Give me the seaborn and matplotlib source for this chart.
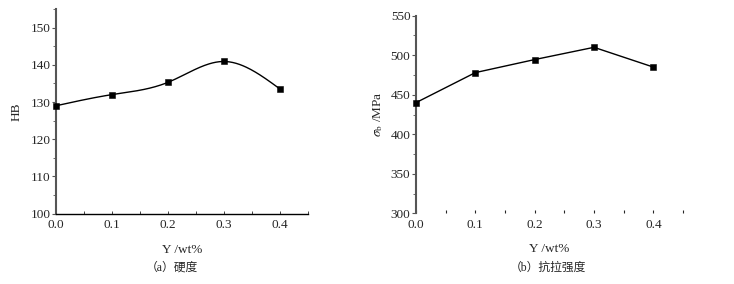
import numpy as np
import pandas as pd
import matplotlib
matplotlib.use("Agg")
import matplotlib.pyplot as plt
import seaborn as sns
from matplotlib.ticker import MultipleLocator

# ---- data ----
y_content = [0.0, 0.1, 0.2, 0.3, 0.4]
hardness_hb = [129.0, 132.0, 135.3, 140.9, 133.5]
tensile_mpa = [440.0, 478.0, 494.5, 510.0, 485.0]
xlabel = "Y /wt%"
ylabel_a = "HB"
ylabel_b = r"$\sigma_{\rm b}$ /MPa"
caption_a = "（a）硬度"
caption_b = "（b）抗拉强度"

sns.set_theme(style="ticks")
plt.rcParams["font.family"] = ["Liberation Serif", "Noto Sans CJK SC", "DejaVu Sans"]
plt.rcParams["mathtext.fontset"] = "stix"

def natural_spline(x, y, n=200):
    x = np.asarray(x, float); y = np.asarray(y, float)
    k = len(x); h = np.diff(x)
    A = np.zeros((k, k)); b = np.zeros(k)
    A[0, 0] = A[-1, -1] = 1
    for i in range(1, k - 1):
        A[i, i - 1] = h[i - 1]; A[i, i] = 2 * (h[i - 1] + h[i]); A[i, i + 1] = h[i]
        b[i] = 3 * ((y[i + 1] - y[i]) / h[i] - (y[i] - y[i - 1]) / h[i - 1])
    c = np.linalg.solve(A, b)
    xs = np.linspace(x[0], x[-1], n); ys = np.empty_like(xs)
    for j, xv in enumerate(xs):
        i = min(np.searchsorted(x, xv, side="right") - 1, k - 2)
        d = xv - x[i]
        bi = (y[i + 1] - y[i]) / h[i] - h[i] * (2 * c[i] + c[i + 1]) / 3
        di = (c[i + 1] - c[i]) / (3 * h[i])
        ys[j] = y[i] + bi * d + c[i] * d ** 2 + di * d ** 3
    return xs, ys

df = pd.DataFrame({"x": y_content, "hb": hardness_hb, "ts": tensile_mpa})

fig = plt.figure(figsize=(7.34, 2.84), dpi=100)
ax1 = fig.add_axes([56 / 734, 1 - 213.7 / 284, 252 / 734, (213.7 - 9) / 284])
ax2 = fig.add_axes([416 / 734, 1 - 213.3 / 284, 267 / 734, (213.3 - 15.7) / 284])

spine_col = "#555555"
# left panel
xs, ys = natural_spline(df["x"], df["hb"])
sns.lineplot(x=xs, y=ys, ax=ax1, color="black", lw=1.0)
sns.scatterplot(data=df, x="x", y="hb", ax=ax1, marker="s", s=22, color="black",
                edgecolor="black", zorder=5, clip_on=False)
ax1.set_xlim(0, 0.45)
ax1.set_ylim(100, 155)
ax1.yaxis.set_major_locator(MultipleLocator(10))
ax1.yaxis.set_minor_locator(MultipleLocator(5))
ax1.set_xticks([0.0, 0.1, 0.2, 0.3, 0.4])
ax1.xaxis.set_minor_locator(MultipleLocator(0.05))
ax1.spines[["top", "right"]].set_visible(False)
ax1.spines["left"].set_color(spine_col)
ax1.spines["left"].set_linewidth(1.5)
ax1.spines["bottom"].set_color("black")
ax1.spines["bottom"].set_linewidth(1.0)
ax1.tick_params(axis="y", which="major", direction="out", length=3, width=0.8, color=spine_col, labelsize=9.5, pad=1)
ax1.tick_params(axis="y", which="minor", direction="out", length=2, width=0.6, color=spine_col)
ax1.tick_params(axis="x", which="both", direction="in", length=2, width=0.6, labelsize=9.5, pad=4)
ax1.set_xlabel(xlabel, fontsize=9.5, labelpad=9)
ax1.set_ylabel(ylabel_a, fontsize=9.5, labelpad=6)
fig.text(172 / 734, 1 - 268 / 284, caption_a, ha="center", va="center", fontsize=8.5)

# right panel
sns.lineplot(data=df, x="x", y="ts", ax=ax2, color="black", lw=1.0)
sns.scatterplot(data=df, x="x", y="ts", ax=ax2, marker="s", s=22, color="black",
                edgecolor="black", zorder=5, clip_on=False)
ax2.set_xlim(0, 0.45)
ax2.set_ylim(300, 550)
ax2.yaxis.set_major_locator(MultipleLocator(50))
ax2.yaxis.set_minor_locator(MultipleLocator(25))
ax2.set_xticks([0.0, 0.1, 0.2, 0.3, 0.4])
ax2.xaxis.set_minor_locator(MultipleLocator(0.05))
ax2.spines[["top", "right", "bottom"]].set_visible(False)
ax2.spines["left"].set_color(spine_col)
ax2.spines["left"].set_linewidth(1.5)
ax2.tick_params(axis="y", which="major", direction="out", length=3, width=0.8, color=spine_col, labelsize=9.5, pad=1)
ax2.tick_params(axis="y", which="minor", direction="out", length=2, width=0.6, color=spine_col)
ax2.tick_params(axis="x", which="both", direction="in", length=2, width=0.8, labelsize=9.5, pad=4)
ax2.set_xlabel(xlabel, fontsize=9.5, labelpad=9)
ax2.set_ylabel(ylabel_b, fontsize=9.5, labelpad=4)
fig.text(548 / 734, 1 - 268 / 284, caption_b, ha="center", va="center", fontsize=8.5)

fig.savefig("out.png", dpi=100, facecolor="white")
